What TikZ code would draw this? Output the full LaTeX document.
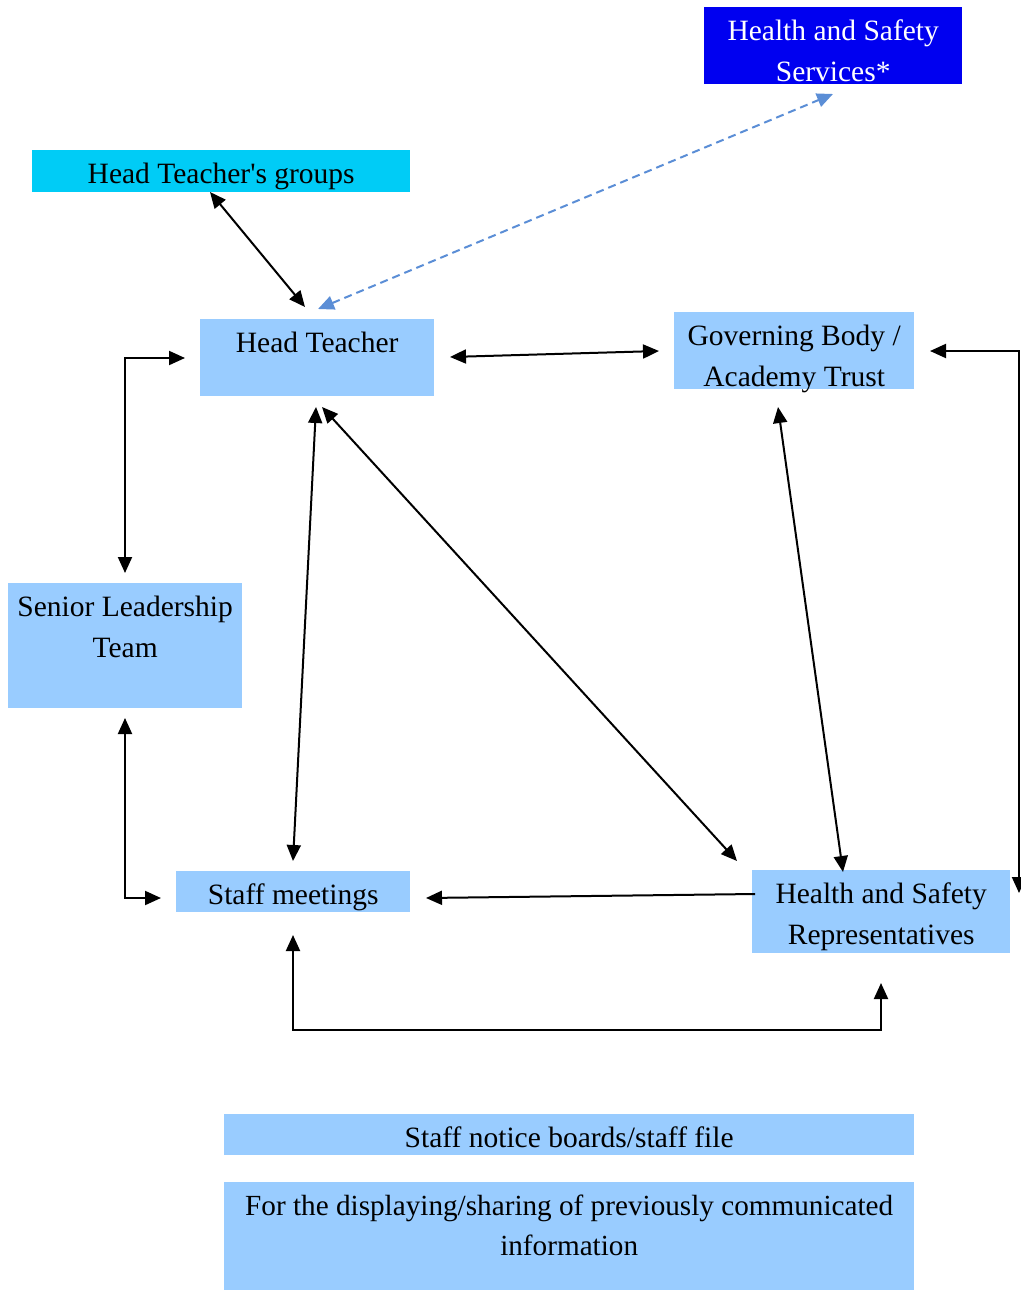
\documentclass[tikz,border=0pt]{standalone}
\usepackage{fontspec}
\setmainfont{Liberation Serif}
\usetikzlibrary{arrows.meta}
\definecolor{lblue}{HTML}{99CCFF}
\definecolor{cyanb}{HTML}{00CCF6}
\definecolor{dblue}{HTML}{0000F0}
\definecolor{dashblue}{HTML}{5B8ED6}
\newcommand{\bxt}[3]{\parbox[c][#2pt][t]{#1pt}{\centering\rule{0pt}{33pt}#3}}
\begin{document}
\begin{tikzpicture}[x=1pt,y=-1pt,
  box/.style={inner sep=0pt, anchor=north west, fill=lblue, font=\fontsize{29.5}{41}\selectfont},
  tip/.style={Triangle[length=16pt,width=14pt]},
  conn/.style={line width=2pt, {Triangle[length=16pt,width=14pt]}-{Triangle[length=16pt,width=14pt]}},
  oneway/.style={line width=2pt, -{Triangle[length=16pt,width=14pt]}},
  dconn/.style={line width=2pt, dashblue, dash pattern=on 8pt off 5pt, {Triangle[length=16pt,width=14pt]}-{Triangle[length=16pt,width=14pt]}}]
\useasboundingbox (0,0) rectangle (1020,1290);
% boxes
\node[box, fill=dblue, text=white] (hss) at (704,7) {\bxt{258}{77}{Health and Safety\\Services*}};
\node[box, fill=cyanb] (htg) at (32,150) {\bxt{378}{42}{Head Teacher\textquotesingle s groups}};
\node[box] (ht) at (200,319) {\bxt{234}{77}{Head Teacher}};
\node[box] (gov) at (674,312) {\bxt{240}{77}{Governing Body /\\Academy Trust}};
\node[box] (slt) at (8,583) {\bxt{234}{125}{Senior Leadership\\Team}};
\node[box] (sm) at (176,871) {\bxt{234}{41}{Staff meetings}};
\node[box] (rep) at (752,870) {\bxt{258}{83}{Health and Safety\\Representatives}};
\node[box] (nb) at (224,1114) {\bxt{690}{41}{Staff notice boards/staff file}};
\node[box] (disp) at (224,1182) {\bxt{690}{108}{\fontsize{29.2}{40}\selectfont For the displaying/sharing of previously communicated\\information}};
% connector end points
\coordinate (htg-s) at (210,192);
\coordinate (ht-n) at (305,307);
\coordinate (ht-ne) at (318,309);
\coordinate (hss-s) at (833,94);
\coordinate (ht-e) at (450,357);
\coordinate (gov-w) at (659,351);
\coordinate (ht-w) at (185,358);
\coordinate (slt-n) at (125,573);
\coordinate (ht-s1) at (316,407);
\coordinate (ht-s2) at (322,407);
\coordinate (sm-n) at (293,861);
\coordinate (rep-nw) at (737,861);
\coordinate (gov-s) at (778,407);
\coordinate (rep-n) at (843,872);
\coordinate (gov-e) at (930,351);
\coordinate (rep-e) at (1019,893);
\coordinate (rep-w) at (755,894);
\coordinate (sm-e) at (426,898);
\coordinate (sm-s) at (293,935);
\coordinate (rep-s) at (881,983);
\coordinate (slt-s) at (125,718);
\coordinate (sm-w) at (161,898);
% connectors
\draw[conn] (htg-s) -- (ht-n);
\draw[dconn] (ht-ne) -- (hss-s);
\draw[conn] (ht-e) -- (gov-w);
\draw[conn] (ht-w) -- (ht-w -| slt-n) -- (slt-n);
\draw[conn] (ht-s1) -- (sm-n);
\draw[conn] (ht-s2) -- (rep-nw);
\draw[conn] (gov-s) -- (rep-n);
\draw[conn] (gov-e) -- (gov-e -| rep-e) -- (rep-e);
\draw[oneway] (rep-w) -- (sm-e);
\draw[conn] (sm-s) -- (293,1030) -- (881,1030) -- (rep-s);
\draw[conn] (slt-s) -- (slt-s |- sm-w) -- (sm-w);
\end{tikzpicture}
\end{document}
